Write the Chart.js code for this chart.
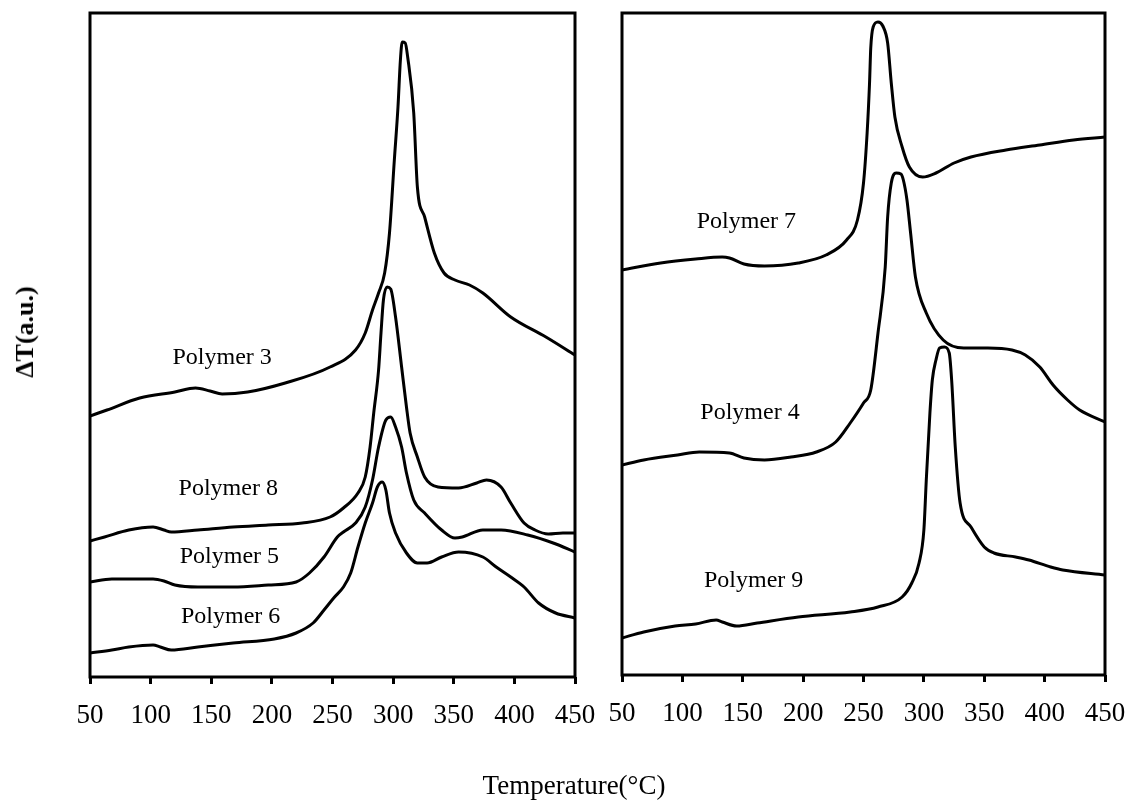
<!DOCTYPE html>
<html>
<head>
<meta charset="utf-8">
<script src="https://cdn.jsdelivr.net/npm/chart.js@4.4.1/dist/chart.umd.min.js"></script>
<style>
  body { margin: 0; background: #fff; }
  #wrap { position: relative; width: 1130px; height: 800px; overflow: hidden; font-family: 'Liberation Serif', 'Times New Roman', serif; color: #000; }
  canvas { position: absolute; top: 0; }
  #left { left: 0; }
  #right { left: 600px; }
  .axis-title { position: absolute; white-space: nowrap; }
  #xTitle { left: 574px; top: 772px; font-size: 27px; line-height: 27px; transform: translateX(-50%); }
  #yTitle { left: 25px; top: 332px; font-size: 26px; font-weight: bold; line-height: 26px; transform: translate(-50%, -50%) rotate(-90deg); }
</style>
</head>
<body>
<div id="wrap">
  <canvas id="left" width="600" height="800"></canvas>
  <canvas id="right" width="530" height="800"></canvas>
  <div class="axis-title" id="yTitle">ΔT(a.u.)</div>
  <div class="axis-title" id="xTitle">Temperature(°C)</div>
</div>
<script>
// temperatures in °C, ΔT in arbitrary units
const temp3 = [50,64,91,120,137,149,159,180,211,248,269,277,283,288,293,297,301,304,306,307.5,310,312,317,320,326,334,342,351,363,374,397,426,450];
const dt3   = [26.7,27.3,28.5,29.1,29.5,29.2,28.9,29.1,30.0,31.6,33.3,35.0,37.3,39.0,41.0,45.0,52.3,57.6,62.3,64.1,64.0,62.6,57.0,49.6,46.6,43.0,41.0,40.3,39.8,39.0,36.6,34.6,32.8];

const temp8 = [50,62,82,102,111,117,139,168,197,225,248,259,271,277,281,284,288,290,292,295,298,302,307,311,314,320,326,337,354,369,377,389,397,408,417,428,440,450];
const dt8   = [14.2,14.6,15.3,15.6,15.3,15.1,15.3,15.6,15.8,16.0,16.6,17.5,19.0,20.6,23.6,27.0,31.3,35.0,38.3,39.6,39.4,36.6,31.6,27.6,25.0,22.6,20.6,19.6,19.5,20.0,20.3,19.6,18.0,16.0,15.3,14.9,15.0,15.0];

const temp5 = [50,68,102,111,120,139,168,197,220,231,243,254,259,269,277,283,288,294,298,302,307,311,317,326,340,351,357,374,389,411,432,450];
const dt5   = [10.1,10.4,10.4,10.2,9.8,9.6,9.6,9.8,10.1,11.0,12.6,14.6,15.1,16.0,17.6,20.3,23.6,26.3,26.6,25.6,23.6,21.0,18.3,17.0,15.3,14.5,14.6,15.3,15.3,14.8,14.0,13.1];

const temp6 = [50,68,82,102,108,117,139,168,202,220,234,243,251,259,265,271,277,283,287,291,294,297,302,311,320,328,340,354,374,385,397,408,420,434,450];
const dt6   = [3.0,3.3,3.6,3.8,3.6,3.3,3.6,4.0,4.4,5.0,6.0,7.3,8.5,9.6,11.0,13.6,16.0,18.0,19.6,20.1,19.3,17.0,15.0,13.0,12.0,12.0,12.6,13.1,12.6,11.6,10.6,9.6,8.0,7.0,6.5];

const temp7 = [50,82,111,133,139,151,168,196,219,236,245,250,253,255,256,258,262,266,270,273,276,282,288,299,310,325,339,368,396,424,450];
const dt7   = [41.3,42.0,42.4,42.6,42.5,41.9,41.7,42.0,42.8,44.3,46.3,50.0,55.0,60.0,63.5,65.6,66.1,65.7,64.0,60.0,56.6,53.6,51.6,50.6,51.0,52.0,52.6,53.3,53.8,54.3,54.6];

const temp4 = [50,68,96,114,139,151,168,190,211,227,239,250,256,262,268,270,273,277,281,283,286,289,293,302,316,333,353,373,384,396,407,419,429,450];
const dt4   = [21.8,22.3,22.8,23.1,23.0,22.5,22.3,22.6,23.1,24.1,26.0,28.0,29.3,35.0,41.6,46.6,50.0,51.0,50.9,50.3,48.3,45.0,40.6,37.0,34.3,33.5,33.5,33.3,32.8,31.6,29.8,28.3,27.3,26.1];

const temp9 = [50,68,94,111,128,133,145,162,196,239,262,282,290,296,300,302,305,307,310,313,317,321,323,326,330,339,350,358,376,387,405,415,450];
const dt9   = [4.5,5.1,5.7,5.9,6.3,6.1,5.7,6.0,6.6,7.1,7.6,8.6,10.0,12.0,15.3,20.3,27.0,30.3,32.3,33.5,33.6,33.0,30.3,23.6,18.0,15.6,13.6,13.0,12.6,12.3,11.6,11.3,10.8];

// curve names and where they sit (°C, a.u.)
const leftNames = ['Polymer 3', 'Polymer 8', 'Polymer 5', 'Polymer 6'];
const leftNameT = [159, 164, 165, 166];
const leftNameDT = [32.5, 19.4, 12.6, 6.6];
const rightNames = ['Polymer 7', 'Polymer 4', 'Polymer 9'];
const rightNameT = [153, 156, 159];
const rightNameDT = [46.1, 27.0, 10.2];

const serif = "'Liberation Serif', 'Times New Roman', serif";

function series(t, v) {
  return t.map((x, i) => ({ x: x, y: v[i] }));
}

// box around the plot + curve names
const framePlugin = {
  id: 'frame',
  afterDatasetsDraw(chart, args, opts) {
    const { ctx, chartArea: a, scales } = chart;
    ctx.save();
    ctx.strokeStyle = '#000';
    ctx.lineWidth = 3;
    ctx.strokeRect(a.left, a.top, a.right - a.left, a.bottom - a.top);
    ctx.fillStyle = '#000';
    ctx.font = '24px ' + serif;
    ctx.textAlign = 'center';
    ctx.textBaseline = 'middle';
    opts.names.forEach((n, i) => {
      ctx.fillText(n, scales.x.getPixelForValue(opts.t[i]), scales.y.getPixelForValue(opts.v[i]));
    });
    ctx.restore();
  }
};

function makePanel(id, curves, labels, yMin, bottom, padLeft, padRight) {
  new Chart(document.getElementById(id), {
    type: 'line',
    data: {
      datasets: curves.map(c => ({
        data: series(c[0], c[1]),
        borderColor: '#000',
        borderWidth: 3,
        pointRadius: 0,
        cubicInterpolationMode: 'monotone',
        fill: false
      }))
    },
    options: {
      responsive: false,
      animation: false,
      layout: { padding: { left: padLeft, right: padRight, top: 13, bottom: 0 } },
      plugins: { legend: { display: false }, tooltip: { enabled: false }, frame: labels },
      scales: {
        x: {
          type: 'linear', min: 50, max: 450,
          afterFit: s => { s.height = 800 - bottom; },
          grid: { drawOnChartArea: false, drawTicks: true, tickLength: 7, tickWidth: 3, tickColor: '#000' },
          border: { display: false },
          // tall line box pushes the labels down without widening the side padding
          ticks: { stepSize: 50, color: '#000', font: { family: serif, size: 27, lineHeight: 2.37 }, padding: 0, maxRotation: 0, autoSkip: false }
        },
        y: { display: false, min: yMin, max: 67 }
      }
    },
    plugins: [framePlugin]
  });
}

makePanel('left',
  [[temp3, dt3], [temp8, dt8], [temp5, dt5], [temp6, dt6]],
  { names: leftNames, t: leftNameT, v: leftNameDT },
  0.6, 677, 90, 25);

makePanel('right',
  [[temp7, dt7], [temp4, dt4], [temp9, dt9]],
  { names: rightNames, t: rightNameT, v: rightNameDT },
  0.8, 675, 22, 25);
</script>
</body>
</html>
